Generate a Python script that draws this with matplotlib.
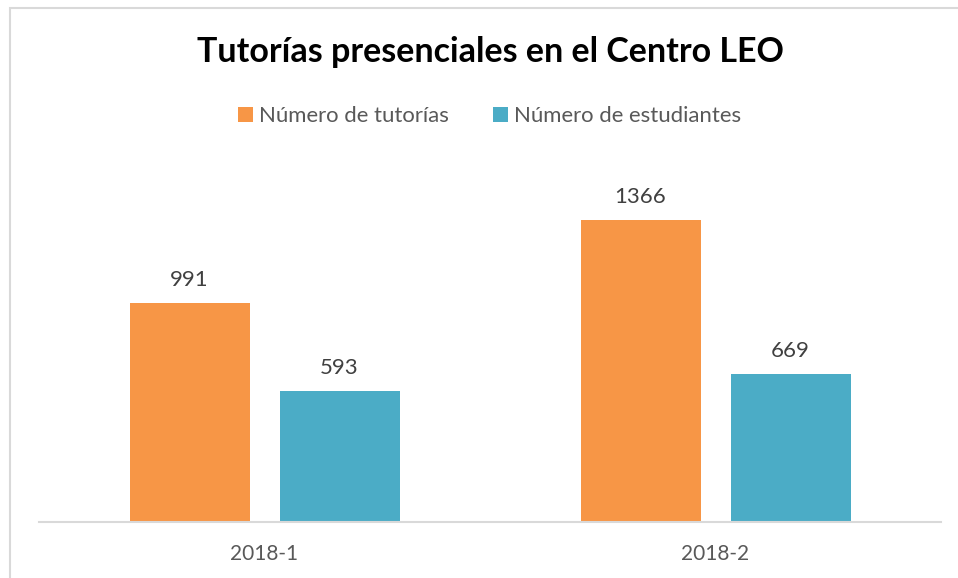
import matplotlib
matplotlib.use("Agg")
import matplotlib.pyplot as plt
from matplotlib.patches import Rectangle
import numpy as np

categories = ["2018-1", "2018-2"]
series_names = ["Número de tutorías", "Número de estudiantes"]
tutorias = [991, 1366]
estudiantes = [593, 669]
title = "Tutorías presenciales en el Centro LEO"

colors = ["#F79646", "#4BACC6"]
W, H = 958, 578
plt.rcParams['font.family'] = ['Lato', 'DejaVu Sans']

fig = plt.figure(figsize=(W / 100, H / 100), dpi=100)
fig.patch.set_facecolor("white")

# chart frame (extends beyond image to right/bottom)
fig.patches.append(Rectangle((10 / W, -0.2), 1.2, 1.2 - 8 / H,
                             transform=fig.transFigure, fill=False,
                             edgecolor="#D9D9D9", linewidth=1.5))

ymax = 1600
px_per_unit = 0.2213
ax_h = ymax * px_per_unit
left, right, base = 39, 941, 522
ax = fig.add_axes([left / W, 1 - base / H, (right - left) / W, ax_h / H])

x = np.arange(len(categories))
bw = 120 / 451
off = 75 / 451
b1 = ax.bar(x - off, tutorias, bw, color=colors[0], label=series_names[0])
b2 = ax.bar(x + off, estudiantes, bw, color=colors[1], label=series_names[1])

for bars in (b1, b2):
    for r in bars:
        ax.annotate(f"{int(r.get_height())}",
                    (r.get_x() + r.get_width() / 2, r.get_height()),
                    xytext=(0, 12.3), textcoords="offset points",
                    ha="center", va="baseline", fontsize=16, color="#404040")

ax.set_xlim(-0.5, 1.5)
ax.set_ylim(0, ymax)
ax.set_yticks([])
ax.set_xticks(x)
ax.set_xticklabels(categories, fontsize=15, color="#595959")
ax.tick_params(axis="x", length=0, pad=16)
for s in ("top", "right", "left"):
    ax.spines[s].set_visible(False)
ax.spines["bottom"].set_color("#D9D9D9")
ax.spines["bottom"].set_linewidth(1.5)
ax.set_facecolor("none")

cx = 490 / W
fig.text(cx, 1 - 52 / H, title, ha="center", va="center",
         fontsize=24.5, fontweight="bold", color="black")

fig.legend(handles=[b1, b2], loc="center", bbox_to_anchor=(cx, 1 - 116 / H),
           ncol=2, frameon=False, fontsize=15.9, handlelength=0.65,
           handleheight=0.65, handletextpad=0.3, columnspacing=2.0,
           labelcolor="#595959")

fig.savefig("out.png", dpi=100, facecolor="white")
